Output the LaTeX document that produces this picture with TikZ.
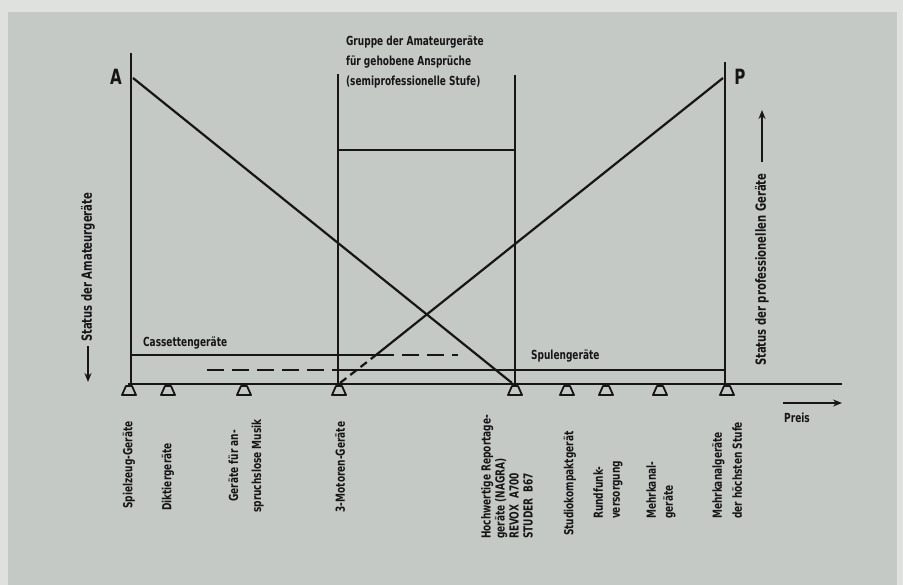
\documentclass[tikz,border=0pt]{standalone}
\usepackage{fontspec}
\setmainfont{DejaVu Sans Condensed}[FakeStretch=0.8]
\usetikzlibrary{arrows.meta}
\definecolor{bg}{RGB}{197,201,198}
\definecolor{bgl}{RGB}{222,225,221}
\definecolor{ink}{RGB}{22,22,22}
\begin{document}
\begin{tikzpicture}[x=1pt,y=-1pt, line width=2.2pt, draw=ink,
  lab/.style={font=\bfseries\fontsize{12.5}{14}\selectfont, text=ink, inner sep=0pt},
  grp/.style={font=\bfseries\fontsize{12.5}{20}\selectfont, text=ink, inner sep=0pt, align=left},
  side/.style={font=\bfseries\fontsize{14}{16}\selectfont, text=ink, inner sep=0pt, rotate=90},
  big/.style={font=\bfseries\fontsize{21}{24}\selectfont, text=ink, inner sep=0pt},
  vlab/.style={lab, rotate=90},
  dsh/.style={dash pattern=on 17pt off 8pt},
  tri/.pic={\draw[ink, line width=1.8pt, line join=round] (-3,2) -- (3,2) -- (7,11) -- (-7,11) -- cycle;}]
\fill[bgl] (0,0) rectangle (903,585);
\fill[bg] (8,12) rectangle (897,585);
\useasboundingbox (0,0) rectangle (903,585);
% coordinates
\coordinate (Atop) at (131,53); \coordinate (A0) at (131,384);
\coordinate (Ptop) at (725,62); \coordinate (P0) at (725,384);
\coordinate (M1top) at (338,74); \coordinate (M1b) at (338,384);
\coordinate (M2top) at (515,75); \coordinate (M2b) at (515,384);
\coordinate (G1) at (338,150); \coordinate (G2) at (515,150);
\coordinate (X0) at (128,384); \coordinate (X1) at (842,384);
\coordinate (Ad1) at (133,78); \coordinate (Ad2) at (512,383);
\coordinate (Pd0) at (340,383); \coordinate (Pdm) at (376,355); \coordinate (Pd1) at (723,78);
\coordinate (C0) at (131,355); \coordinate (C1) at (377,355); \coordinate (C2) at (458,355);
\coordinate (S0) at (207,370); \coordinate (S1) at (338,370); \coordinate (S2) at (725,370);
% verticals and axis
\draw (Atop) -- (A0);
\draw (Ptop) -- (P0);
\draw (M1top) -- (M1b);
\draw (M2top) -- (M2b);
\draw (G1) -- (G2);
\draw (X0) -- (X1);
% diagonals
\draw (Ad1) -- (Ad2);
\draw[dash pattern=on 8pt off 5pt] (Pd0) -- (Pdm);
\draw (Pdm) -- (Pd1);
% cassette and spulen lines
\draw (C0) -- (C1);
\draw[dsh] (C1) -- (C2);
\draw[dsh] (S0) -- (S1);
\draw (S1) -- (S2);
% triangles
\foreach \t in {129,168,244,339,515,567,606,660,727} \pic at (\t,384) {tri};
% labels
\node[big] (lA) at (116,77) {A};
\node[big] (lP) at (740,77) {P};
\node[grp, anchor=base west] (grp) at (345,86) {Gruppe der Amateurgeräte\\für gehobene Ansprüche\\(semiprofessionelle Stufe)};
\node[lab, anchor=base west] (cas) at (142,347) {Cassettengeräte};
\node[lab, anchor=base west] (spu) at (530,360) {Spulengeräte};
\node[lab] (preis) at (797,418) {Preis};
\coordinate (pr0) at (783,403); \coordinate (pr1) at (842,403);
\draw[-{Stealth[length=9pt,width=7pt]}] (pr0) -- (pr1);
% side labels
\node[side, anchor=west] (sA) at (88,343) {Status der Amateurgeräte};
\coordinate (sa0) at (88,346); \coordinate (sa1) at (88,382);
\draw[-{Stealth[length=9pt,width=7pt]}] (sa0) -- (sa1);
\node[side, anchor=west] (sP) at (762,367) {Status der professionellen Geräte};
\coordinate (sp0) at (762,162); \coordinate (sp1) at (762,110);
\draw[-{Stealth[length=9pt,width=7pt]}] (sp0) -- (sp1);
% bottom labels
\node[vlab] (b1) at (129,465) {Spielzeug-Geräte};
\node[vlab] (b2) at (168,477) {Diktiergeräte};
\node[vlab, align=center] (b3) at (246,466) {Geräte für an-\\[9pt]spruchslose Musik};
\node[vlab] (b4) at (340,467) {3-Motoren-Geräte};
\node[vlab, align=left, anchor=west] (b5) at (507,540) {Hochwertige Reportage-\\geräte (NAGRA)\\REVOX~~A700\\STUDER~~B67};
\node[vlab, anchor=west] (b6) at (570,537) {Studiokompaktgerät};
\node[vlab, align=left, anchor=west] (b7) at (608,520) {Rundfunk-\\[3pt]versorgung};
\node[vlab, align=left, anchor=west] (b8) at (661,520) {Mehrkanal-\\[3pt]geräte};
\node[vlab, align=left, anchor=west] (b9) at (727,520) {Mehrkanalgeräte\\[6pt]der höchsten Stufe};
\end{tikzpicture}
\end{document}
